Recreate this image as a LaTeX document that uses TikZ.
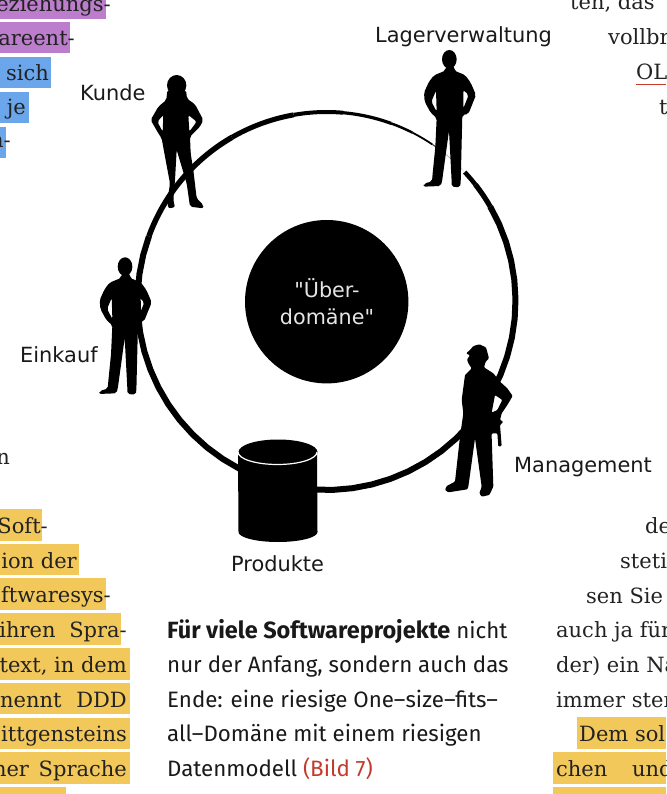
\documentclass[tikz,border=0pt]{standalone}
\usepackage{fontspec}
\setmainfont{DejaVu Serif}
\newfontfamily\labelfont{DejaVu Sans}
\newfontfamily\capfont{Fira Sans}
\definecolor{lila}{HTML}{BC7DCC}
\definecolor{blau}{HTML}{6BA6EA}
\definecolor{gelb}{HTML}{F2C85B}
\definecolor{bildrot}{HTML}{C23B2A}
\definecolor{tinte}{HTML}{222222}
\tikzset{
  spalte/.style={anchor=base east,inner sep=0pt,text=tinte,font=\fontsize{21}{21}\selectfont},
  spalter/.style={anchor=base west,inner sep=0pt,text=tinte,font=\fontsize{21}{21}\selectfont},
  rolle/.style={anchor=base west,inner sep=0pt,text=black!90,font=\labelfont\fontsize{20.9}{20.9}\selectfont},
  mitte/.style={anchor=base,inner sep=0pt,text=white!90!black,font=\labelfont\fontsize{20.7}{20.7}\selectfont},
  caption/.style={anchor=base west,inner sep=0pt,text=black!90,font=\capfont\fontsize{22.3}{22.3}\selectfont},
  mann/.pic={
    \fill (118,58) ellipse[x radius=22,y radius=28];
    \fill[rounded corners=2pt,even odd rule] (107,80)--(106,92)--(72,106)--(57,125)--(42,158)--(44,185)--(62,218)--(80,234)--(76,320)--(68,400)--(66,424)--(42,431)--(40,440)--(92,438)--(96,425)--(117,272)--(125,425)--(125,440)--(150,442)--(152,430)--(157,225)--(175,222)--(198,165)--(182,128)--(165,105)--(133,92)--(133,80)--cycle
      (78,152)--(64,185)--(80,215)--cycle (160,150)--(176,165)--(160,205)--cycle;
  }
}
\begin{document}
\begin{tikzpicture}[x=1pt,y=-1pt]
  \useasboundingbox (0,0) rectangle (666,794);
  \begin{scope}
    \clip (0,0) rectangle (666,794);
    % linke Spalte
    \fill[lila] (0,-2) rectangle (106,19);
    \fill[lila] (0,22) rectangle (70,53);
    \fill[blau] (0,57) rectangle (51,88);
    \fill[blau] (0,92) rectangle (29,123);
    \fill[blau] (0,127) rectangle (6,158);
    \fill[gelb] (0,509) rectangle (42,541);
    \fill[gelb] (0,544) rectangle (79,575);
    \fill[gelb] (0,578) rectangle (106,610);
    \fill[gelb] (0,613) rectangle (121,645);
    \fill[gelb] (0,648) rectangle (130,680);
    \fill[gelb] (0,683) rectangle (130,714);
    \fill[gelb] (0,718) rectangle (130,749);
    \fill[gelb] (0,752) rectangle (130,784);
    \fill[gelb] (0,787) rectangle (66,796);
    % rechte Spalte
    \fill[gelb] (577,717) rectangle (666,749);
    \fill[gelb] (553,752) rectangle (666,784);
    \fill[gelb] (553,787) rectangle (666,796);
    \foreach \i/\x/\y/\t in {a/111/12/eziehungs-,b/75/46/areent-,c/49/81/sich,d/26/115/je,e/11/148/n-,f/10/464/n,
      g/48/533/Soft-,h/77/568/ion der,i/111/602/ftwaresys-,j/127/637/{ihren\hspace{7pt} Spra-},k/127/672/{text, in dem},
      l/127/707/{nennt\hspace{8pt} DDD},m/127/741/ittgensteins,n/127/776/{her\hspace{3pt} Sprache}}
      \node[spalte] (links\i) at (\x,\y) {\t};
    \foreach \i/\x/\y/\t in {a/570/10/{ten, das},b/608/45/vollbr,c/636/80/OL,d/659/115/t,e/645/533/de,f/620/568/steti,
      g/586/603/sen Sie,h/556/637/auch ja für,i/556/672/der) ein Na,j/556/707/immer ster,k/579/741/Dem sol,l/556/776/{chen\hspace{18pt} und}}
      \node[spalter] (rechts\i) at (\x,\y) {\t};
    \draw[bildrot,line width=1.5pt] (636,84.5)--(666,84.5);
  \end{scope}
  % Ring
  \foreach \a/\b/\w/\c in {317/322/4.5/black,322/330/5.2/black,330/560/6/black,560/600/5.5/black,600/620/5/black,
    620/635/4/black,635/650/3.2/black,650/657/2.5/black,657/664/1.8/black,664/668/1.2/black!70,668/673/.6/black!35,673/677/.4/black!15}
    \draw[line width=\w pt,\c,domain=\a:\b,samples=40] plot ({326.5+189*cos(\x)},{301+189*sin(\x)});
  % Domaene
  \node[circle,fill=black,minimum size=163.4pt,inner sep=0pt] (domaene) at (326.7,301.7) {};
  \node[mitte] (ueber) at (327,297) {"Über-};
  \node[mitte] (domtext) at (327,324) {domäne"};
  % Figuren
  \pic[scale=1/3] at (410,40) {mann};
  \pic[scale=1/3] at (85.7,247.3) {mann};
  \begin{scope}[shift={(140,70)},scale=1/3]
    \fill (110,46) ellipse[x radius=29,y radius=31];
    \fill[rounded corners=2pt,even odd rule] (82,60)--(138,60)--(141,86)--(165,103)--(190,150)--(180,170)--(160,190)--(150,200)--(152,250)--(160,300)--(170,385)--(190,405)--(190,415)--(150,410)--(140,340)--(110,240)--(105,330)--(100,390)--(105,412)--(85,415)--(82,395)--(90,340)--(75,260)--(65,205)--(55,190)--(32,150)--(55,110)--(79,90)--cycle
      (70,135)--(52,155)--(68,185)--cycle (145,135)--(170,155)--(148,185)--cycle;
  \end{scope}
  \begin{scope}[shift={(420,330)},scale=1/3]
    \fill[rounded corners=1pt,even odd rule] (138,70)--(150,60)--(160,48)--(178,43)--(198,52)--(207,85)--(197,95)--(192,112)--(220,130)--(240,155)--(262,175)--(278,198)--(262,225)--(245,250)--(240,270)--(250,275)--(240,285)--(245,348)--(235,350)--(232,310)--(215,310)--(215,320)--(220,470)--(208,495)--(185,500)--(178,490)--(185,470)--(165,325)--(145,470)--(142,478)--(85,487)--(75,480)--(80,468)--(105,455)--(120,320)--(130,250)--(125,210)--(135,135)--(155,115)--(145,100)--(141,88)--(150,76)--cycle
      (225,195)--(247,210)--(232,240)--(215,248)--cycle;
  \end{scope}
  % Datenbank
  \fill (238,452) arc[start angle=180,end angle=360,x radius=39.5,y radius=-12.5] -- (317.5,532) arc[start angle=360,end angle=180,x radius=39.5,y radius=-10] -- cycle;
  \fill (278,452) ellipse[x radius=39.5,y radius=12.5];
  \draw[white,line width=1.2pt] (238,452) arc[start angle=180,end angle=360,x radius=39.5,y radius=-12.5];
  % Rollen
  \node[rolle] (kunde) at (80,101) {Kunde};
  \node[rolle] (lager) at (375,43) {Lagerverwaltung};
  \node[rolle] (einkauf) at (20,362) {Einkauf};
  \node[rolle] (management) at (514,472) {Management};
  \node[rolle] (produkte) at (231,571) {Produkte};
  % Bildtext
  \node[caption] (zeile1) at (167,638) {{\fontsize{23.5}{23.5}\selectfont\bfseries Für viele Softwareprojekte} nicht};
  \node[caption] (zeile2) at (167,672) {nur der Anfang, sondern auch das};
  \node[caption] (zeile3) at (167,707) {Ende: eine riesige One–size–fits–};
  \node[caption] (zeile4) at (167,741) {all–Domäne mit einem riesigen};
  \node[caption] (zeile5) at (167,776) {Datenmodell \textcolor{bildrot}{(Bild 7)}};
\end{tikzpicture}
\end{document}
